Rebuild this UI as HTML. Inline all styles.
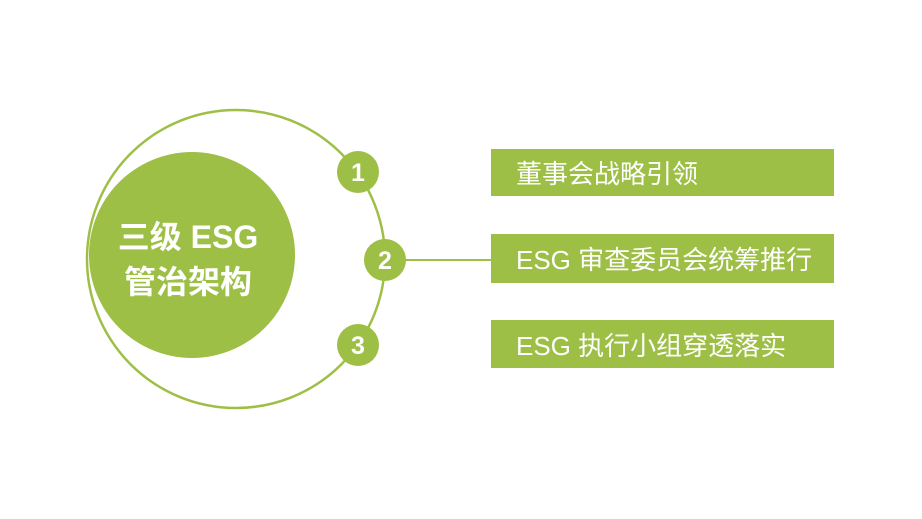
<!DOCTYPE html>
<html><head><meta charset="utf-8"><style>
html,body{margin:0;padding:0;background:#fff;}
body{width:922px;height:519px;position:relative;overflow:hidden;font-family:"Liberation Sans","Noto Sans CJK SC",sans-serif;}
.box{position:absolute;left:491px;width:343px;background:#9dbf45;color:#fff;font-size:26px;box-sizing:border-box;padding-left:25px;display:flex;align-items:center;}
</style></head><body>
<svg width="922" height="519" style="position:absolute;left:0;top:0">
<circle cx="236" cy="259" r="149" fill="none" stroke="#9dbf45" stroke-width="2.5"/>
<circle cx="192" cy="255" r="103" fill="#9dbf45"/>
<line x1="400" y1="260" x2="492" y2="260" stroke="#9dbf45" stroke-width="2"/>
<circle cx="358" cy="172" r="21" fill="#9dbf45"/>
<circle cx="385" cy="260" r="21" fill="#9dbf45"/>
<circle cx="358" cy="345" r="21" fill="#9dbf45"/>
<g fill="#fff" font-family="Liberation Sans, sans-serif" font-weight="bold" font-size="25" text-anchor="middle">
<text x="358" y="181">1</text><text x="385" y="269">2</text><text x="358" y="354">3</text>
</g>
<g fill="#fff" font-family="Liberation Sans, Noto Sans CJK SC, sans-serif" font-weight="bold" font-size="32" text-anchor="middle">
<text x="188" y="248">三级 ESG</text><text x="188" y="293">管治架构</text>
</g>
</svg>
<div class="box" style="top:149px;height:47px">董事会战略引领</div>
<div class="box" style="top:234px;height:49px">ESG 审查委员会统筹推行</div>
<div class="box" style="top:320px;height:48px">ESG 执行小组穿透落实</div>
</body></html>
